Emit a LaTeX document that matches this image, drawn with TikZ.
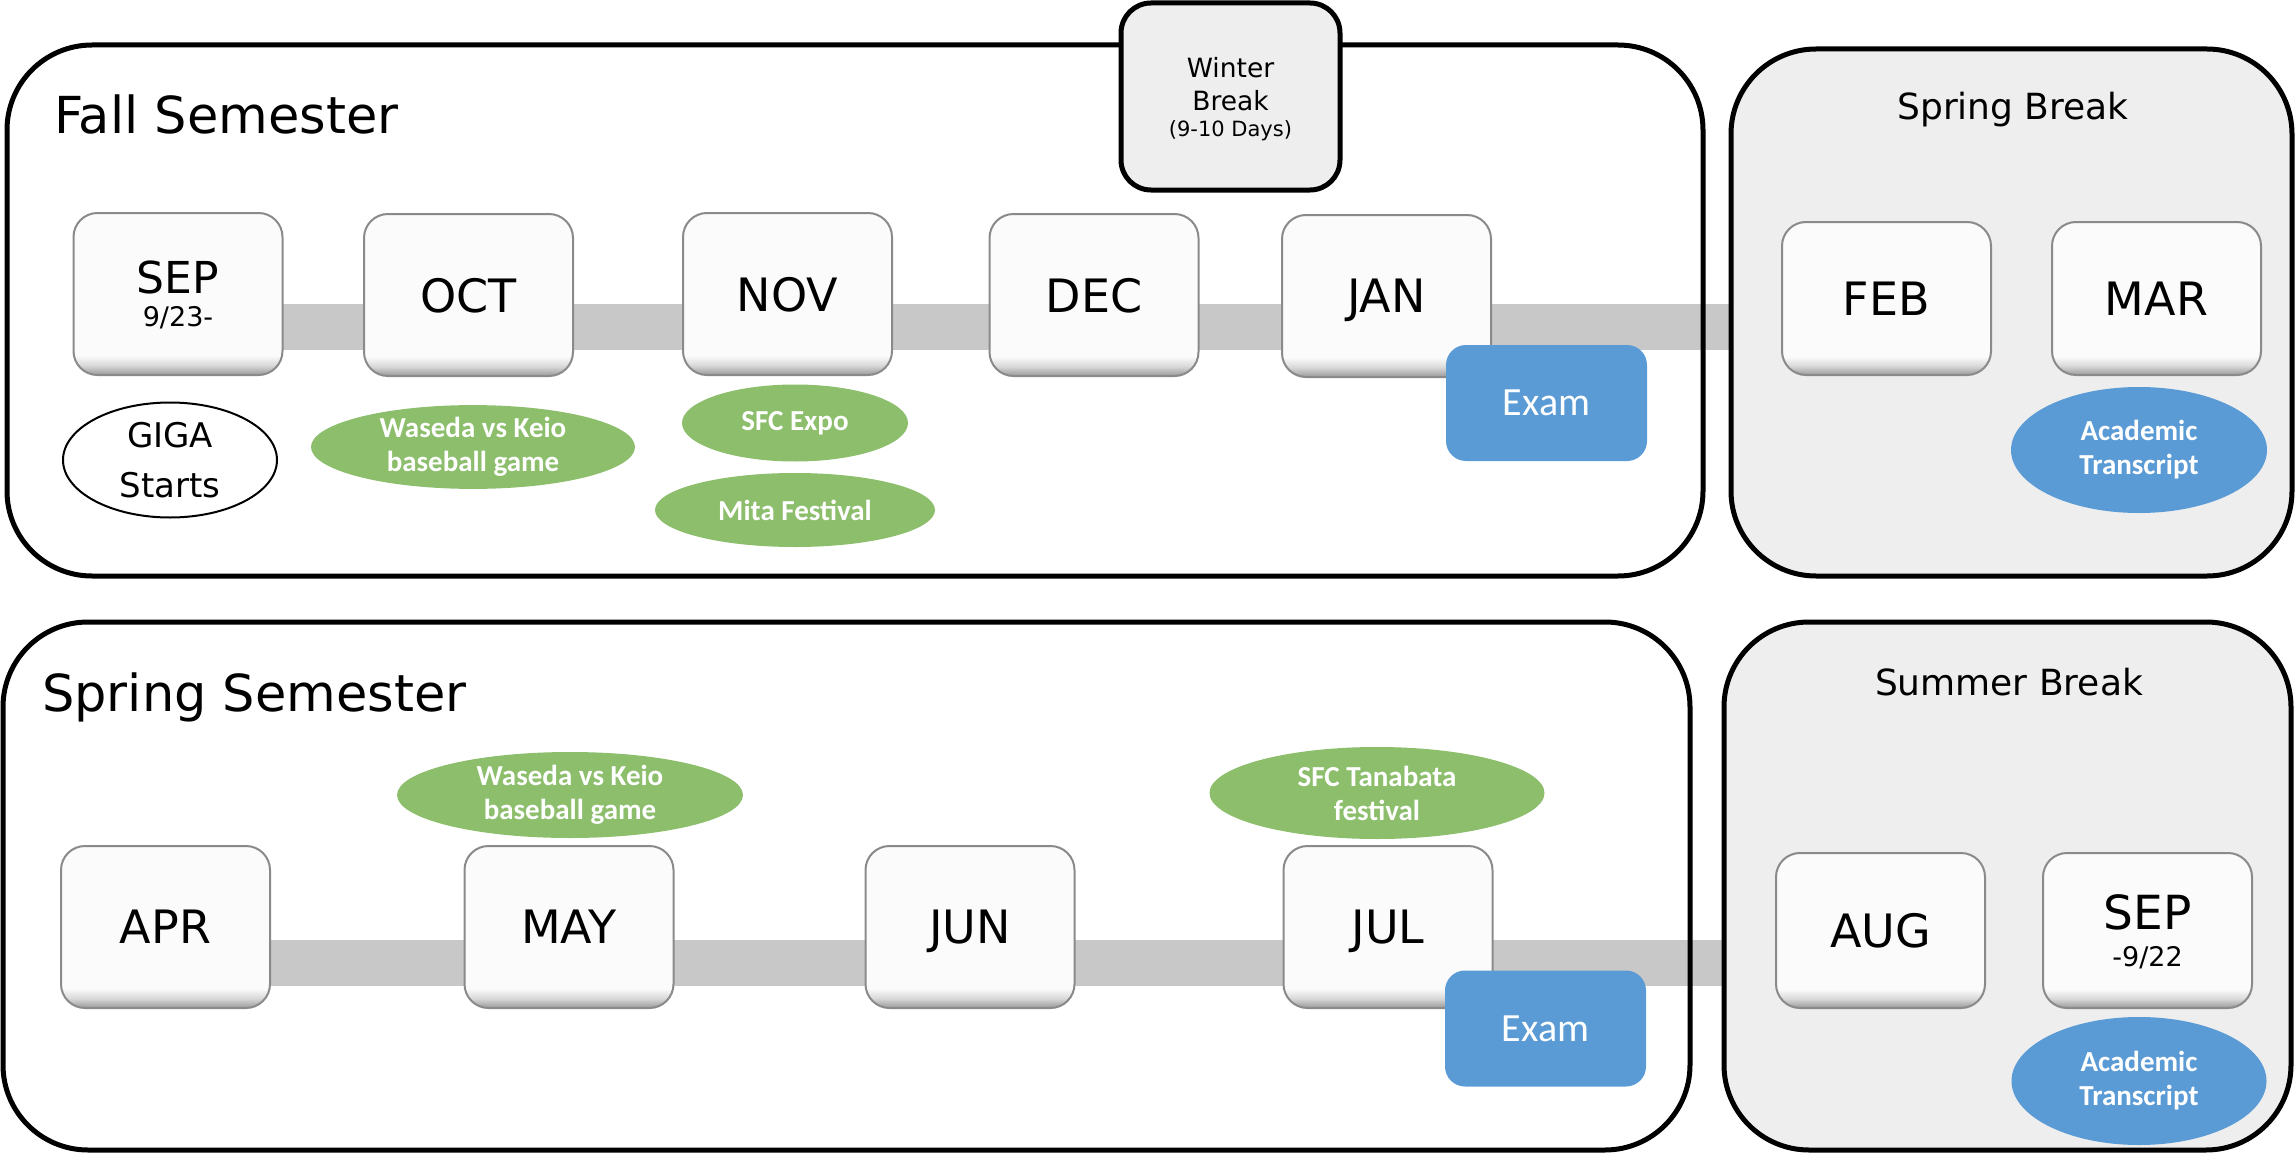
\documentclass[tikz,border=0pt]{standalone}
\usepackage{fontspec}
\setmainfont{DejaVu Sans}
\newfontfamily\labelfont{Carlito}
\usetikzlibrary{shapes.geometric,backgrounds,positioning}

\definecolor{bandgray}{HTML}{C8C8C8}
\definecolor{breakgray}{HTML}{EEEEEE}
\definecolor{eventgreen}{HTML}{8CBE6C}
\definecolor{examblue}{HTML}{5B9BD5}
\definecolor{boxrim}{HTML}{8A8A8A}
\definecolor{boxface}{HTML}{FBFBFB}

\pgfdeclareverticalshading{monthshade}{100bp}{color(0bp)=(gray!80); color(25bp)=(gray!80); color(28bp)=(gray!30); color(31bp)=(boxface); color(75bp)=(boxface); color(100bp)=(boxface)}

\tikzset{
  semester/.style={draw, line width=5pt, rounded corners=85pt, inner sep=0pt},
  breakbox/.style={semester, fill=breakgray},
  title/.style={inner sep=0pt, font=\fontsize{51}{61}\selectfont},
  breaktitle/.style={inner sep=0pt, font=\fontsize{36}{43}\selectfont},
  month/.style={draw=boxrim, line width=2pt, rounded corners=24pt, shading=monthshade,
    minimum width=209pt, minimum height=162pt, inner sep=0pt, align=center,
    text depth=-4pt, font=\fontsize{46}{55}\selectfont},
  event/.style={ellipse, fill=eventgreen, text=white, inner sep=0pt, align=center,
    font=\labelfont\bfseries\fontsize{29}{34}\selectfont},
  transcript/.style={event, fill=examblue},
  exam/.style={fill=examblue, rounded corners=20pt, minimum width=201pt, minimum height=116pt,
    inner sep=0pt, text=white, font=\labelfont\fontsize{40}{48}\selectfont},
  band/.style={line width=46pt, bandgray}
}

\begin{document}
\begin{tikzpicture}[x=1pt, y=-1pt]
\useasboundingbox (0,0) rectangle (2295,1153);

% fall semester and spring break
\node[semester, minimum width=1696pt, minimum height=531pt] (fall) at (855,310.5) {};
\node[breakbox, minimum width=561pt, minimum height=527pt] (springbrk) at (2011.5,312.5) {};
\node[breakbox, rounded corners=30pt, minimum width=219pt, minimum height=187pt, align=center,
  text depth=0pt, font=\fontsize{26.5}{33}\selectfont] (winter) at (1230.5,96.5)
  {Winter\\Break\\[-7pt]{\fontsize{21}{26}\selectfont (9-10 Days)}};
\node[title, anchor=base west] (falltitle) at (54,134) {Fall Semester};
\node[breaktitle, anchor=base] (springbrktitle) at (2013,120) {Spring Break};

\node[month, text depth=-1pt, font=\fontsize{44}{33}\selectfont] (sep) at (178,294) {SEP\\{\fontsize{27}{33}\selectfont 9/23-}};
\node[month] (oct) at (468.5,295) {OCT};
\node[month] (nov) at (787.5,294) {NOV};
\node[month] (dec) at (1094,295) {DEC};
\node[month] (jan) at (1386.5,296) {JAN};
\node[month, minimum height=153pt] (feb) at (1886.5,298.5) {FEB};
\node[month, minimum height=153pt] (mar) at (2156.5,298.5) {MAR};
\node[exam] (examfall) at (1546.5,403) {Exam};

\node[draw, ellipse, line width=2pt, minimum width=214pt, minimum height=115pt, inner sep=0pt,
  align=center, font=\fontsize{34}{50}\selectfont] (giga) at (170,460) {GIGA\\Starts};
\node[event, minimum width=324pt, minimum height=82pt] (wasedafall) at (473,447) {Waseda vs Keio\\baseball game};
\node[event, minimum width=226pt, minimum height=77pt] (expo) at (795,423) {SFC Expo};
\node[event, minimum width=280pt, minimum height=74pt] (mita) at (795,510) {Mita Festival};
\node[transcript, minimum width=256pt, minimum height=126pt] (transcriptfall) at (2139,450) {Academic\\Transcript};

% spring semester and summer break
\node[semester, minimum width=1687pt, minimum height=528pt] (spring) at (846.5,886) {};
\node[breakbox, minimum width=567pt, minimum height=528pt] (summerbrk) at (2007.5,886) {};
\node[title, anchor=base west] (springtitle) at (42,711) {Spring Semester};
\node[breaktitle, anchor=base] (summerbrktitle) at (2009,695) {Summer Break};

\node[month] (apr) at (165.5,927) {APR};
\node[month] (may) at (569,927) {MAY};
\node[month] (jun) at (970,927) {JUN};
\node[month] (jul) at (1388,927) {JUL};
\node[month, minimum height=155pt] (aug) at (1880.5,930.5) {AUG};
\node[month, minimum height=155pt, text depth=-10pt, font=\fontsize{47}{37}\selectfont] (sepend) at (2147.5,930.5) {SEP\\{\fontsize{27}{37}\selectfont -9/22}};
\node[exam] (examspring) at (1545.5,1028.5) {Exam};

\node[event, minimum width=346pt, minimum height=86pt] (wasedaspring) at (570,795) {Waseda vs Keio\\baseball game};
\node[event, minimum width=335pt, minimum height=92pt] (tanabata) at (1377,793) {SFC Tanabata\\festival};
\node[transcript, minimum width=255pt, minimum height=128pt] (transcriptspring) at (2139,1081) {Academic\\Transcript};

% timeline bands behind the months
\begin{scope}[on background layer]
  \coordinate (fallband) at (178,327);
  \coordinate (springband) at (166,963);
  \draw[band] (fallband) -- (fallband -| springbrk.west);
  \draw[band] (springband) -- (springband -| summerbrk.west);
\end{scope}
\end{tikzpicture}
\end{document}
